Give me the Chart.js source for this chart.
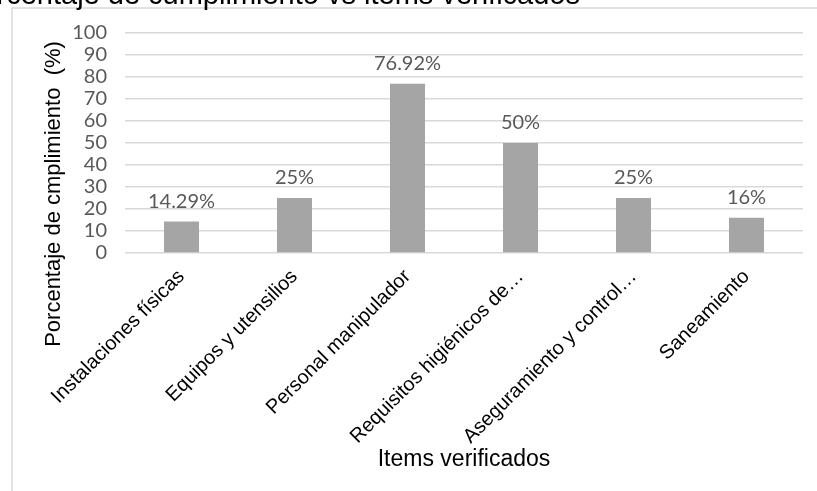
<!DOCTYPE html>
<html>
<head>
<meta charset="utf-8">
<script src="https://cdn.jsdelivr.net/npm/chart.js@4/dist/chart.umd.min.js"></script>
<style>
  html, body { margin: 0; padding: 0; background: #fff; }
  #wrap { width: 817px; height: 491px; }
</style>
</head>
<body>
<div id="wrap"><canvas id="bar-chart"></canvas></div>
<script>
(function () {
    "use strict";

    var categories = [
        "Instalaciones físicas",
        "Equipos y utensilios",
        "Personal manipulador",
        "Requisitos higiénicos de…",
        "Aseguramiento y control…",
        "Saneamiento"
    ];
    var cumplimiento = [14.29, 25, 76.92, 50, 25, 16];
    var valueLabels = ["14.29%", "25%", "76.92%", "50%", "25%", "16%"];
    var yTicks = [0, 10, 20, 30, 40, 50, 60, 70, 80, 90, 100];

    var titleText = "Porcentaje de cumplimiento vs items verificados";
    var yTitleText = "Porcentaje de cmplimiento  (%)";

    // frame, clipped title, y title and value labels
    var decorations = {
        id: "decorations",
        beforeDraw: function (chart) {
            var ctx = chart.ctx;
            ctx.save();
            ctx.strokeStyle = "#d9d9d9";
            ctx.lineWidth = 1.5;
            ctx.beginPath();
            ctx.moveTo(12, 491);
            ctx.lineTo(12, 8);
            ctx.lineTo(817, 8);
            ctx.stroke();
            ctx.restore();
        },
        afterDraw: function (chart) {
            var ctx = chart.ctx;
            ctx.save();
            ctx.fillStyle = "#000";
            ctx.font = "29px 'Liberation Sans', Arial, sans-serif";
            ctx.textAlign = "right";
            ctx.textBaseline = "alphabetic";
            ctx.fillText(titleText, 580, 4);

            ctx.translate(54, 194);
            ctx.rotate(-Math.PI / 2);
            ctx.textAlign = "center";
            ctx.textBaseline = "middle";
            ctx.font = "22px 'Liberation Sans', Arial, sans-serif";
            ctx.fillText(yTitleText, 0, 0);
            ctx.restore();

            ctx.save();
            ctx.fillStyle = "#595959";
            ctx.font = "20px Lato, 'Open Sans', sans-serif";
            ctx.textAlign = "center";
            ctx.textBaseline = "bottom";
            chart.getDatasetMeta(0).data.forEach(function (bar, i) {
                ctx.fillText(valueLabels[i], bar.x, bar.y - 10);
            });
            ctx.restore();
        }
    };

    var ctx = document.getElementById("bar-chart").getContext("2d");
    new Chart(ctx, {
        type: "bar",
        data: {
            labels: categories,
            datasets: [{
                data: cumplimiento,
                backgroundColor: "#a5a5a5",
                categoryPercentage: 1,
                barPercentage: 0.31
            }]
        },
        options: {
            responsive: true,
            maintainAspectRatio: false,
            animation: false,
            layout: { padding: { top: 33, right: 14, left: 0, bottom: 0 } },
            plugins: {
                legend: { display: false },
                tooltip: { enabled: false }
            },
            scales: {
                x: {
                    grid: { display: false },
                    border: { display: false },
                    ticks: {
                        color: "#000",
                        font: { family: "'Liberation Sans', Arial, sans-serif", size: 20 },
                        minRotation: 45,
                        maxRotation: 45,
                        autoSkip: false,
                        padding: 4
                    },
                    title: {
                        display: true,
                        text: "Items verificados",
                        color: "#000",
                        font: { family: "'Liberation Sans', Arial, sans-serif", size: 23 },
                        padding: { top: 18, bottom: 18 }
                    },
                    afterFit: function (scale) { scale.height = 238; }
                },
                y: {
                    min: 0,
                    max: 100,
                    afterBuildTicks: function (scale) {
                        scale.ticks = yTicks.map(function (v) { return { value: v }; });
                    },
                    grid: { color: "#d9d9d9", lineWidth: 1.5, drawTicks: false },
                    border: { display: false },
                    ticks: {
                        color: "#595959",
                        font: { family: "Lato, 'Open Sans', sans-serif", size: 20 },
                        autoSkip: false,
                        padding: 18
                    },
                    afterFit: function (scale) { scale.width = 125; }
                }
            }
        },
        plugins: [decorations]
    });
})();
</script>
</body>
</html>
